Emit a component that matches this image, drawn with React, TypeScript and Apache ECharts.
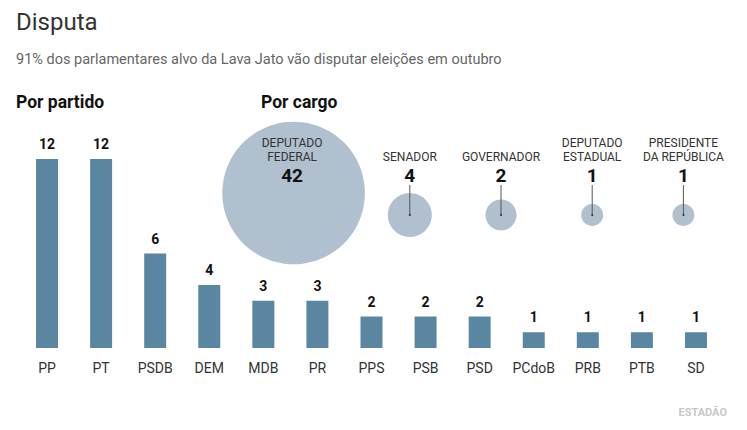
import React, { useEffect, useRef } from "react";
import * as echarts from "echarts";

const parties = ["PP", "PT", "PSDB", "DEM", "MDB", "PR", "PPS", "PSB", "PSD", "PCdoB", "PRB", "PTB", "SD"];
const partyCounts = [12, 12, 6, 4, 3, 3, 2, 2, 2, 1, 1, 1, 1];
const offices = ["DEPUTADO\nFEDERAL", "SENADOR", "GOVERNADOR", "DEPUTADO\nESTADUAL", "PRESIDENTE\nDA REPÚBLICA"];
const officeCounts = [42, 4, 2, 1, 1];

const FONT = "Roboto, 'Noto Sans', sans-serif";
const BAR = "#5b86a1";
const BUBBLE = "#b1c0ce";

export default function App() {
  const ref = useRef<HTMLDivElement>(null);
  useEffect(() => {
    document.body.style.margin = "0";
    const chart = echarts.init(ref.current!, null, { renderer: "svg" });
    const renderItem = (params: any, api: any) => {
      const i = api.value(0);
      const v = api.value(2);
      const c = api.coord([i, 0]);
      const big = i === 0;
      const r = 11 * Math.sqrt(v);
      const cx = c[0] + (big ? -25 : 0);
      const cy = c[1] + (big ? -22 : 0);
      const names = offices[i].split("\n");
      const base = c[1];
      const children: any[] = [
        { type: "circle", shape: { cx, cy, r }, style: { fill: BUBBLE } },
      ];
      if (!big) {
        children.push({ type: "line", shape: { x1: cx, y1: base - 30, x2: cx, y2: cy }, style: { stroke: "#555", lineWidth: 1 } });
        children.push({ type: "circle", shape: { cx, cy, r: 1 }, style: { fill: "#333" } });
      }
      const tx = big ? cx - 1.5 : cx;
      names.forEach((n, k) => {
        const y = base - 58 - (names.length - 1 - k) * 14;
        children.push({
          type: "text",
          style: { text: n, x: tx, y, align: "center", verticalAlign: "middle", fill: "#333", fontSize: 12, fontFamily: FONT },
        });
      });
      children.push({
        type: "text",
        style: { text: String(v), x: tx, y: base - 40, align: "center", verticalAlign: "middle", fill: "#111", fontSize: 19, fontWeight: "bold", fontFamily: FONT },
      });
      return { type: "group", children };
    };
    chart.setOption({
      animation: false,
      textStyle: { fontFamily: FONT },
      graphic: [
        { type: "text", x: 16, y: 22, style: { text: "Disputa", fill: "#333", fontSize: 24, fontFamily: FONT, verticalAlign: "middle" } },
        { type: "text", x: 16, y: 59, style: { text: "91% dos parlamentares alvo da Lava Jato vão disputar eleições em outubro", fill: "#666", fontSize: 14.5, fontFamily: FONT, verticalAlign: "middle" } },
        { type: "text", x: 16, y: 102, style: { text: "Por partido", fill: "#111", fontSize: 17.5, fontWeight: "bold", fontFamily: FONT, verticalAlign: "middle" } },
        { type: "text", x: 261, y: 102, style: { text: "Por cargo", fill: "#111", fontSize: 17.5, fontWeight: "bold", fontFamily: FONT, verticalAlign: "middle" } },
        { type: "text", x: 727, y: 412, style: { text: "ESTADÃO", fill: "#c8c8c8", fontSize: 11, fontWeight: "bold", fontFamily: FONT, align: "right", verticalAlign: "middle" } },
      ],
      grid: [
        { left: 20, right: 24, top: 159, bottom: 82 },
        { left: 273, right: 18, top: 195, height: 40 },
      ],
      xAxis: [
        {
          type: "category", gridIndex: 0, data: parties,
          axisLine: { show: false }, axisTick: { show: false },
          axisLabel: { color: "#333", fontSize: 14, margin: 13, fontFamily: FONT, interval: 0 },
        },
        { type: "category", gridIndex: 1, data: offices, show: false },
      ],
      yAxis: [
        { type: "value", gridIndex: 0, min: 0, max: 12, show: false, splitLine: { show: false } },
        { type: "value", gridIndex: 1, min: -1, max: 1, show: false, splitLine: { show: false } },
      ],
      series: [
        {
          type: "bar", xAxisIndex: 0, yAxisIndex: 0, data: partyCounts, barWidth: 22,
          itemStyle: { color: BAR },
          label: { show: true, position: "top", distance: 8, color: "#111", fontSize: 14, fontWeight: "bold", fontFamily: FONT },
        },
        {
          type: "custom", xAxisIndex: 1, yAxisIndex: 1,
          data: officeCounts.map((v, i) => [i, 0, v]),
          encode: { x: 0, y: 1 },
          renderItem,
          z: 1,
        },
      ],
    });
    return () => chart.dispose();
  }, []);
  return <div ref={ref} style={{ width: 747, height: 430 }} />;
}
